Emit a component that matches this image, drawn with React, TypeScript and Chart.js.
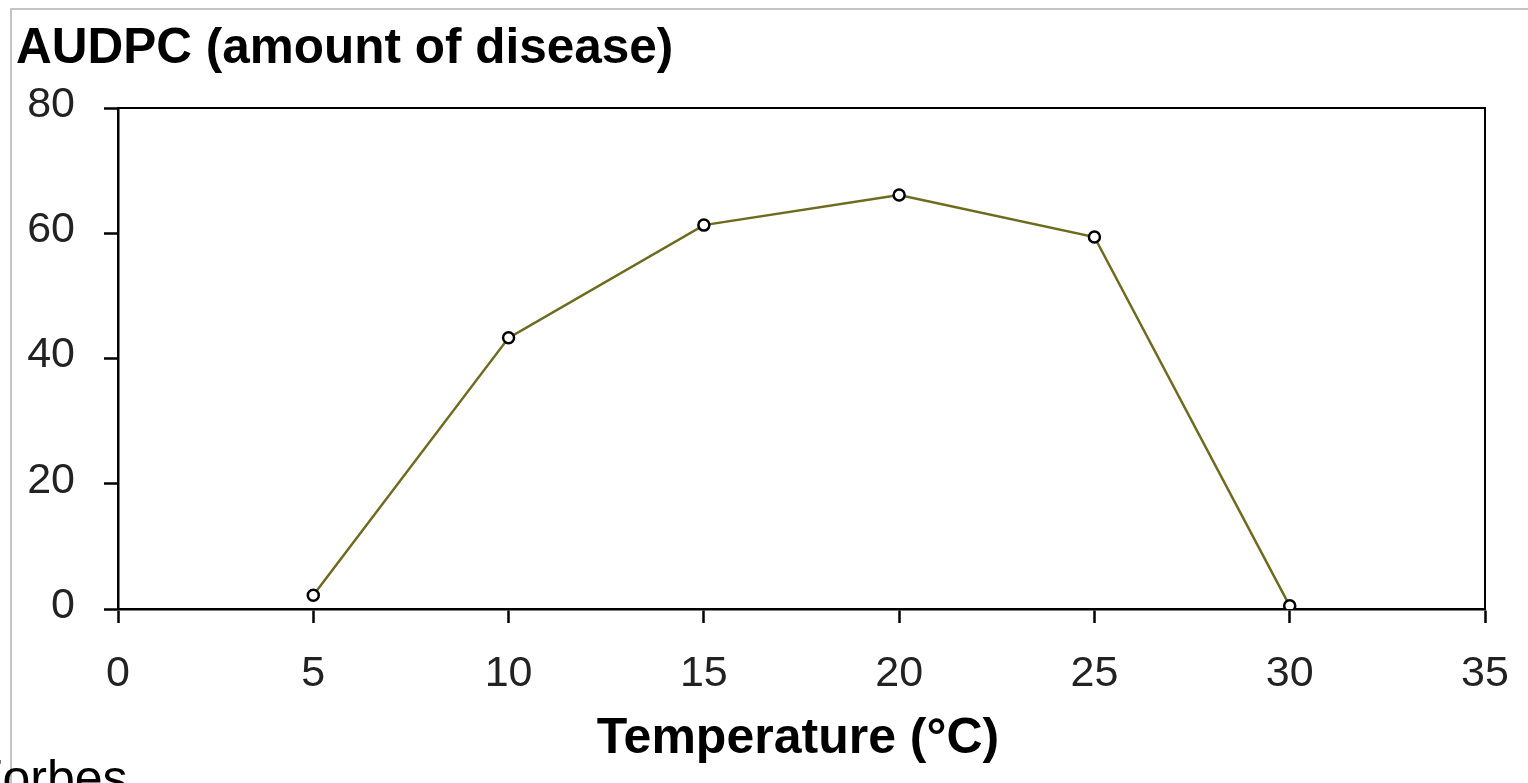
import React, { useEffect, useRef } from "react";
import { Chart, registerables } from "chart.js";

Chart.register(...registerables);

const temperatures = [5, 10, 15, 20, 25, 30];
const audpc = [2.2, 43.3, 61.3, 66.1, 59.4, 0.5];
const xTickValues = [0, 5, 10, 15, 20, 25, 30, 35];
const yTickValues = [0, 20, 40, 60, 80];
const titleText = "AUDPC (amount of disease)";
const xTitleText = "Temperature (°C)";
const footText = "Forbes";

const FONT = "'Liberation Sans', Arial, sans-serif";

const decorPlugin = {
  id: "decor",
  beforeDraw(chart: any) {
    const ctx = chart.ctx;
    ctx.save();
    ctx.fillStyle = "#ffffff";
    ctx.fillRect(0, 0, chart.width, chart.height);
    ctx.strokeStyle = "#c4c4c4";
    ctx.lineWidth = 2;
    ctx.beginPath();
    ctx.moveTo(11, chart.height);
    ctx.lineTo(11, 9);
    ctx.lineTo(chart.width, 9);
    ctx.stroke();
    ctx.restore();
  },
  afterDraw(chart: any) {
    const ctx = chart.ctx;
    const a = chart.chartArea;
    ctx.save();
    ctx.strokeStyle = "#000";
    ctx.lineWidth = 2;
    ctx.beginPath();
    ctx.moveTo(a.left, a.top);
    ctx.lineTo(a.right, a.top);
    ctx.lineTo(a.right, a.bottom);
    ctx.stroke();

    ctx.fillStyle = "#000";
    ctx.textBaseline = "alphabetic";
    ctx.font = `bold 49.5px ${FONT}`;
    ctx.textAlign = "left";
    ctx.fillText(titleText, 16, 63);
    ctx.font = `bold 50px ${FONT}`;
    ctx.textAlign = "center";
    ctx.fillText(xTitleText, 798, 753);
    ctx.font = `50px ${FONT}`;
    ctx.textAlign = "left";
    ctx.fillText(footText, -28, 795);
    ctx.restore();
  },
};

export default function App() {
  const ref = useRef<HTMLCanvasElement>(null);
  useEffect(() => {
    if (!ref.current) return;
    const chart = new Chart(ref.current, {
      type: "scatter",
      data: {
        datasets: [
          {
            data: temperatures.map((t, i) => ({ x: t, y: audpc[i] })),
            showLine: true,
            borderColor: "#6e6a1e",
            borderWidth: 2.5,
            pointStyle: "circle",
            pointRadius: 5.5,
            pointBorderWidth: 2.5,
            pointBorderColor: "#000",
            pointBackgroundColor: "#fff",
          },
        ],
      },
      plugins: [decorPlugin],
      options: {
        responsive: false,
        animation: false,
        devicePixelRatio: 1,
        layout: { padding: { left: 0, right: 43, top: 108, bottom: 0 } },
        plugins: {
          legend: { display: false },
          tooltip: { enabled: false },
          title: { display: false },
        },
        scales: {
          x: {
            type: "linear",
            min: 0,
            max: 35,
            afterFit: (s: any) => {
              s.height = 174;
              s.paddingLeft = 0;
              s.paddingRight = 0;
            },
            afterBuildTicks: (s: any) => {
              s.ticks = xTickValues.map((v) => ({ value: v }));
            },
            grid: {
              drawOnChartArea: false,
              drawTicks: true,
              tickLength: 14,
              tickWidth: 2.5,
              tickColor: "#000",
            },
            border: { display: true, color: "#000", width: 2.5 },
            ticks: {
              color: "#222",
              font: { family: FONT, size: 43 },
              padding: 25,
              maxRotation: 0,
              autoSkip: false,
            },
          },
          y: {
            type: "linear",
            min: 0,
            max: 80,
            afterFit: (s: any) => {
              s.width = 118;
              s.paddingTop = 0;
              s.paddingBottom = 0;
            },
            afterBuildTicks: (s: any) => {
              s.ticks = yTickValues.map((v) => ({ value: v }));
            },
            grid: {
              drawOnChartArea: false,
              drawTicks: true,
              tickLength: 14,
              tickWidth: 2.5,
              tickColor: "#000",
            },
            border: { display: true, color: "#000", width: 2.5 },
            ticks: {
              color: "#222",
              font: { family: FONT, size: 43 },
              padding: 29,
              labelOffset: -3,
              autoSkip: false,
            },
          },
        },
      },
    });
    return () => chart.destroy();
  }, []);
  return (
    <canvas
      ref={ref}
      width={1528}
      height={783}
      style={{ position: "fixed", left: 0, top: 0, width: 1528, height: 783 }}
    />
  );
}
